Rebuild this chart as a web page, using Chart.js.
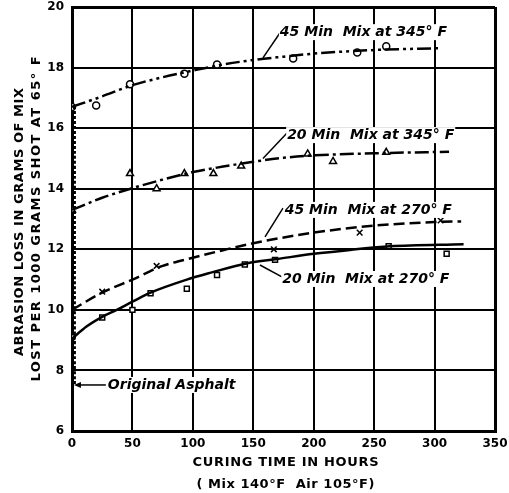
<!DOCTYPE html>
<html>
<head>
<meta charset="utf-8">
<script src="https://cdn.jsdelivr.net/npm/chart.js@4.4.0/dist/chart.umd.min.js"></script>
<style>
  body { margin: 0; background: #fff; }
  #wrap { width: 509px; height: 493px; }
</style>
</head>
<body>
<div id="wrap"><canvas id="chart"></canvas></div>
<script>
// measured points (hours, grams)
const mix45at345 = [[0, 16.7], [20, 16.75], [48, 17.45], [93, 17.8], [120, 18.1], [183, 18.3], [236, 18.5], [260, 18.7]];
const mix20at345 = [[0, 13.3], [48, 14.5], [70, 14.0], [93, 14.5], [117, 14.5], [140, 14.75], [195, 15.15], [216, 14.9], [260, 15.2]];
const mix45at270 = [[0, 10.0], [25, 10.6], [70, 11.45], [167, 12.0], [238, 12.55], [305, 12.95]];
const mix20at270 = [[0, 9.1], [25, 9.75], [50, 10.0], [65, 10.55], [95, 10.7], [120, 11.15], [143, 11.5], [168, 11.65], [262, 12.1], [310, 11.85]];

// hand drawn curves
const curve45at345 = [[0, 16.7], [25, 17.05], [50, 17.42], [75, 17.68], [100, 17.9], [125, 18.1], [150, 18.25], [175, 18.36], [200, 18.46], [250, 18.58], [305, 18.64]];
const curve20at345 = [[0, 13.3], [25, 13.7], [50, 14.02], [75, 14.3], [100, 14.55], [125, 14.73], [150, 14.89], [175, 15.02], [200, 15.1], [250, 15.17], [312, 15.22]];
const curve45at270 = [[0, 10.0], [25, 10.57], [50, 11.0], [75, 11.45], [100, 11.72], [125, 11.97], [150, 12.2], [200, 12.55], [250, 12.78], [300, 12.9], [322, 12.92]];
const curve20at270 = [[0, 9.05], [12, 9.45], [25, 9.77], [37, 10.0], [50, 10.27], [65, 10.57], [95, 11.0], [115, 11.23], [145, 11.54], [170, 11.68], [200, 11.85], [230, 11.98], [263, 12.1], [324, 12.17]];
const originalAsphalt = [[2, 7.55], [2, 16.7]];

const xTicks = [0, 50, 100, 150, 200, 250, 300, 350];
const yTicks = [6, 8, 10, 12, 14, 16, 18, 20];

// label text, text anchor, leader from -> to
const notes = [
  { text: '45 Min  Mix at 345° F', at: [172, 19.17], from: [173.7, 19.24], to: [158, 18.32] },
  { text: '20 Min  Mix at 345° F', at: [178, 15.77], from: [178.7, 15.87], to: [158, 15.0] },
  { text: '45 Min  Mix at 270° F', at: [176, 13.3], from: [174.6, 13.36], to: [159.7, 12.41] },
  { text: '20 Min  Mix at 270° F', at: [174, 11.02], from: [173.7, 11.09], to: [155.5, 11.48] }
];

const FONT = '"DejaVu Sans", "Liberation Sans", sans-serif';
const pts = arr => arr.map(p => ({ x: p[0], y: p[1] }));

function curve(data, dash, width) {
  return {
    type: 'line', data: pts(data), borderColor: '#000', borderWidth: width || 2.5,
    borderDash: dash, pointRadius: 0, cubicInterpolationMode: 'monotone', fill: false
  };
}
function marks(data, style, r) {
  return {
    type: 'scatter', data: pts(data), pointStyle: style, pointRadius: r,
    pointBackgroundColor: '#fff', pointBorderColor: '#000', pointBorderWidth: 1.5
  };
}

// centred text spread out to a given width
function spreadText(ctx, text, x, y, width) {
  ctx.letterSpacing = '0px';
  const w = ctx.measureText(text).width;
  const sp = Math.max(0, (width - w) / (text.length - 1));
  ctx.letterSpacing = sp.toFixed(2) + 'px';
  ctx.textAlign = 'left';
  ctx.fillText(text, x - width / 2, y);
  ctx.letterSpacing = '0px';
}

const textPlugin = {
  id: 'texts',
  afterDraw(chart) {
    const ctx = chart.ctx, xs = chart.scales.x, ys = chart.scales.y;
    const a = chart.chartArea;
    ctx.save();
    ctx.fillStyle = '#000';
    ctx.strokeStyle = '#000';

    // curve labels and leaders
    ctx.font = 'italic bold 14px ' + FONT;
    ctx.textBaseline = 'middle';
    ctx.lineWidth = 1.5;
    notes.forEach(n => {
      ctx.beginPath();
      ctx.moveTo(xs.getPixelForValue(n.from[0]), ys.getPixelForValue(n.from[1]));
      ctx.lineTo(xs.getPixelForValue(n.to[0]), ys.getPixelForValue(n.to[1]));
      ctx.stroke();
      const tx = xs.getPixelForValue(n.at[0]), ty = ys.getPixelForValue(n.at[1]);
      const w = ctx.measureText(n.text).width;
      ctx.fillStyle = '#fff';
      ctx.fillRect(tx - 1, ty - 8, w + 2, 16);
      ctx.fillStyle = '#000';
      ctx.fillText(n.text, tx, ty);
    });

    // original asphalt arrow
    const ay = ys.getPixelForValue(7.52);
    const ax0 = xs.getPixelForValue(28), ax1 = xs.getPixelForValue(1.6);
    ctx.beginPath();
    ctx.moveTo(ax0, ay); ctx.lineTo(ax1 + 5, ay); ctx.stroke();
    ctx.beginPath();
    ctx.moveTo(ax1, ay); ctx.lineTo(ax1 + 7, ay - 3); ctx.lineTo(ax1 + 7, ay + 3); ctx.closePath(); ctx.fill();
    const label = 'Original Asphalt';
    const lw = ctx.measureText(label).width;
    ctx.fillStyle = '#fff';
    ctx.fillRect(ax0 + 1, ay - 8, lw + 3, 16);
    ctx.fillStyle = '#000';
    ctx.fillText(label, ax0 + 2, ay);

    // axis titles
    ctx.font = 'bold 13px ' + FONT;
    const cy = (a.top + a.bottom) / 2 + 3;
    ctx.save();
    ctx.translate(20, cy);
    ctx.rotate(-Math.PI / 2);
    spreadText(ctx, 'ABRASION LOSS IN GRAMS OF MIX', 0, 0, 268);
    ctx.restore();
    ctx.save();
    ctx.translate(37, cy - 3);
    ctx.rotate(-Math.PI / 2);
    spreadText(ctx, 'LOST PER 1000 GRAMS SHOT AT 65° F', 0, 0, 325);
    ctx.restore();
    const cx = (a.left + a.right) / 2 + 2;
    spreadText(ctx, 'CURING TIME IN HOURS', cx, 463, 186);
    spreadText(ctx, '( Mix 140°F  Air 105°F)', cx, 485, 178);
    ctx.restore();
  }
};

const edge = (ctx, last) => (ctx.index === 0 || ctx.index === last) ? 3 : 2;
const tickFont = { family: FONT, size: 12, weight: 'bold' };

new Chart(document.getElementById('chart'), {
  data: {
    datasets: [
      curve(originalAsphalt, [3, 2], 3),
      curve(curve45at345, [14, 4, 3, 4, 3, 4]),
      curve(curve20at345, [14, 4, 3, 4]),
      curve(curve45at270, [11, 5]),
      curve(curve20at270, []),
      marks(mix45at345, 'circle', 3.5),
      marks(mix20at345, 'triangle', 4),
      marks(mix45at270, 'crossRot', 4),
      marks(mix20at270, 'rect', 3.5)
    ]
  },
  options: {
    responsive: true,
    maintainAspectRatio: false,
    animation: false,
    layout: { padding: { top: 7, right: 14, left: 0, bottom: 0 } },
    plugins: { legend: { display: false }, tooltip: { enabled: false } },
    scales: {
      x: {
        type: 'linear', min: xTicks[0], max: xTicks[xTicks.length - 1],
        afterBuildTicks: s => { s.ticks = xTicks.map(v => ({ value: v })); },
        afterFit: s => { s.height = 62; s.paddingLeft = 0; s.paddingRight = 0; },
        grid: { color: '#000', lineWidth: c => edge(c, xTicks.length - 1), drawTicks: false },
        border: { color: '#000', width: 3 },
        ticks: { color: '#000', padding: 6, font: tickFont }
      },
      y: {
        type: 'linear', min: yTicks[0], max: yTicks[yTicks.length - 1],
        afterBuildTicks: s => { s.ticks = yTicks.map(v => ({ value: v })); },
        afterFit: s => { s.width = 72; s.paddingTop = 0; s.paddingBottom = 0; },
        grid: { color: '#000', lineWidth: c => edge(c, yTicks.length - 1), drawTicks: false },
        border: { color: '#000', width: 3 },
        ticks: { color: '#000', padding: 8, font: tickFont }
      }
    }
  },
  plugins: [textPlugin]
});
</script>
</body>
</html>
